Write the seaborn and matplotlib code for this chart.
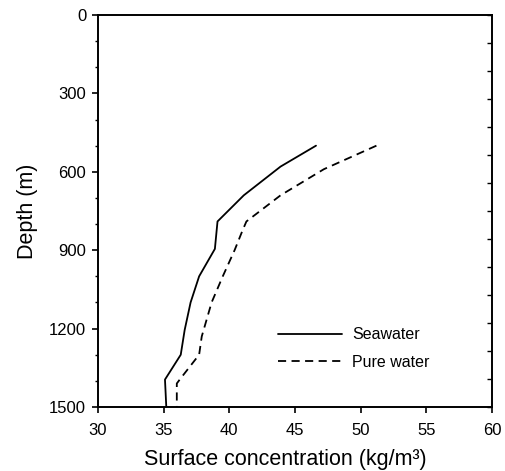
import numpy as np
import pandas as pd
import matplotlib
matplotlib.use("Agg")
import matplotlib.pyplot as plt
import seaborn as sns

# Data
sea_depth = [500, 580, 690, 790, 895, 1000, 1100, 1205, 1300, 1395, 1500]
sea_conc = [46.6, 43.9, 41.1, 39.1, 38.9, 37.7, 37.05, 36.6, 36.3, 35.1, 35.2]
pure_depth = [500, 590, 690, 790, 825, 900, 1000, 1100, 1230, 1300, 1390, 1410, 1500]
pure_conc = [51.2, 47.2, 43.9, 41.3, 41.0, 40.4, 39.5, 38.65, 37.9, 37.7, 36.3, 36.0, 36.0]
series_names = ["Seawater", "Pure water"]
x_ticks = [30, 35, 40, 45, 50, 55, 60]
y_ticks = [0, 300, 600, 900, 1200, 1500]

df = pd.concat([
    pd.DataFrame({"conc": sea_conc, "depth": sea_depth, "series": series_names[0]}),
    pd.DataFrame({"conc": pure_conc, "depth": pure_depth, "series": series_names[1]}),
], ignore_index=True)

sns.set_theme(style="ticks")
plt.rcParams['font.family'] = ['Liberation Sans', 'DejaVu Sans']
plt.rcParams['text.color'] = 'black'
plt.rcParams['axes.labelcolor'] = 'black'

fig = plt.figure(figsize=(5.05, 4.71), dpi=100)
ax = fig.add_axes([98/505, 1-407/471, (492-98)/505, (407-15)/471])

sns.lineplot(data=df, x="conc", y="depth", hue="series", style="series",
             palette={"Seawater": "black", "Pure water": "black"},
             dashes={"Seawater": "", "Pure water": (4.5, 3)},
             sort=False, estimator=None, linewidth=1.3, ax=ax)

ax.set_xlim(30, 60)
ax.set_ylim(1500, 0)
ax.set_xticks(x_ticks)
ax.set_yticks(y_ticks)
ax.set_yticks(np.arange(0, 1501, 100), minor=True)
ax.tick_params(axis="both", which="major", labelsize=12, direction="out",
               length=4, width=1.2, color="black", labelcolor="black")
ax.tick_params(axis="x", which="major", pad=7.3)
ax.tick_params(axis="y", which="major", pad=4.5)
ax.tick_params(axis="y", which="minor", direction="out", length=2.5, width=1.0, color="black")
for s in ax.spines.values():
    s.set_linewidth(1.4)
    s.set_color("black")
    s.set_visible(True)

# right spine inward ticks
axr = ax.twinx()
axr.set_ylim(1500, 0)
axr.set_yticks(np.linspace(0, 1500, 15))
axr.tick_params(axis="y", direction="in", length=3.5, width=1.0, color="black", labelright=False)
for s in axr.spines.values():
    s.set_visible(False)

ax.set_xlabel("Surface concentration (kg/m³)", fontsize=15.5, labelpad=8, color="black")
ax.xaxis.label.set_x(0.475)
ax.set_ylabel("Depth (m)", fontsize=15.5, labelpad=8, color="black")

handles, labels = ax.get_legend_handles_labels()
leg = ax.legend(handles, labels, loc="upper left", bbox_to_anchor=(0.457, 0.203),
                frameon=False, fontsize=11.5, handlelength=4.0, handletextpad=0.62,
                labelspacing=0.79, borderaxespad=0, borderpad=0)
for t in leg.get_texts():
    t.set_color("black")

fig.savefig("out.png", dpi=100)
